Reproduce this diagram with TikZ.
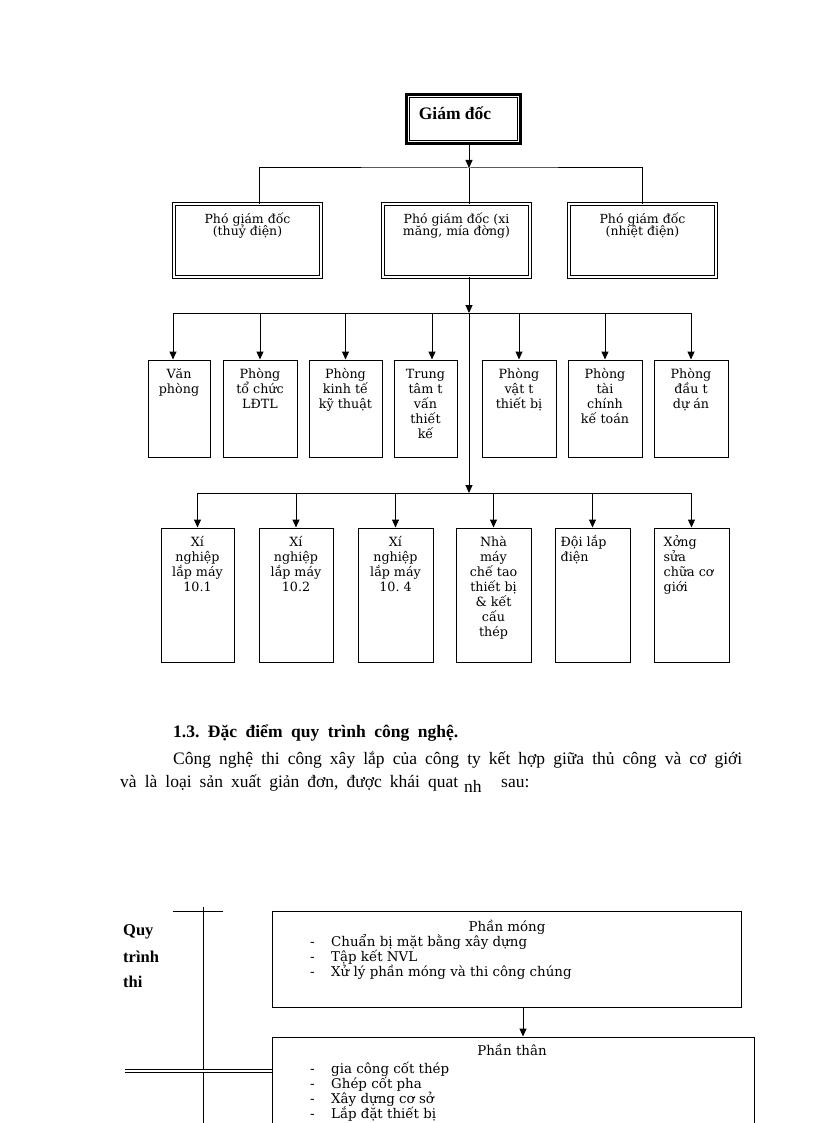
\documentclass[tikz,border=0pt]{standalone}
\usepackage{fontspec}
\setmainfont{Liberation Serif}
\newfontfamily\chartfont{DejaVu Serif}
\usetikzlibrary{arrows.meta}
\frenchspacing

\newcommand\cstack[1]{\vtop{\let\\\cr\lineskiplimit=-50pt\halign{\hfil##\hfil\cr#1\crcr}}}
\newcommand\lstack[1]{\vtop{\let\\\cr\lineskiplimit=-50pt\halign{##\hfil\cr#1\crcr}}}
\newcommand\itm[1]{\makebox[21pt][l]{-}#1}

\begin{document}
\begin{tikzpicture}[x=1pt, y=-1pt,
  ln/.style={line width=1pt},
  arr/.style={ln, -{Triangle[width=7pt,length=8pt]}},
  unit/.style={draw, ln, inner sep=0pt, minimum width=#1, minimum height=97pt},
  works/.style={draw, ln, inner sep=0pt, minimum width=#1, minimum height=134pt},
  deputy/.style={draw, double, double distance=2pt, line width=0.9pt, inner sep=0pt, minimum width=147pt, minimum height=73pt},
  chart/.style={inner sep=0pt, anchor=base, font=\chartfont\fontsize{12.7}{15}\selectfont},
  deptext/.style={chart, font=\chartfont\fontsize{12.5}{11.5}\selectfont},
  body/.style={inner sep=0pt, anchor=base west, font=\fontsize{17.5}{21}\selectfont},
  stage/.style={draw, ln, inner sep=0pt, minimum height=#1},
  stagetext/.style={inner sep=0pt, font=\chartfont\fontsize{13.4}{15}\selectfont}]
\clip (0,0) rectangle (816,1123);

% giam doc
\node[draw, line width=3pt, inner sep=0pt, minimum width=114pt, minimum height=49pt] (gd) at (463.5,119) {};
\draw[line width=0.8pt] ([shift={(4.5,4.5)}]gd.north west) rectangle ([shift={(-4.5,-4.5)}]gd.south east);
\node[inner sep=0pt, anchor=base, font=\bfseries\fontsize{17.5}{20}\selectfont] (gdt) at (455,120) {Giám đốc};

% pho giam doc
\node[deputy] (dl) at (247.5,240.5) {};
\node[deputy] (dm) at (456.5,240.5) {};
\node[deputy] (dr) at (642.5,240.5) {};
\node[deptext] (dlt) at ([yshift=-20pt]dl.north) {\cstack{Phó giám đốc\\(thuỷ điện)}};
\node[deptext] (dmt) at ([yshift=-20pt]dm.north) {\cstack{Phó giám đốc (xi\\măng, mía đờng)}};
\node[deptext] (drt) at ([yshift=-20pt]dr.north) {\cstack{Phó giám đốc\\(nhiệt điện)}};

\coordinate (b1) at (469,168);
\draw[arr] ([xshift=5.5pt]gd.south) -- (b1);
\draw[ln] (b1) -- ([xshift=12.5pt]dm.north);
\draw[ln] ([xshift=11.5pt]dl.north) |- (b1) -| (dr.north);

% phong ban
\node[unit=62pt] (p1) at (179,408.5) {};
\node[unit=74pt] (p2) at (260,408.5) {};
\node[unit=73pt] (p3) at (345.5,408.5) {};
\node[unit=63pt] (p4) at (425.5,408.5) {};
\node[unit=74pt] (p5) at (519,408.5) {};
\node[unit=74pt] (p6) at (605,408.5) {};
\node[unit=74pt] (p7) at (691,408.5) {};
\node[chart] (p1t) at ([yshift=-19pt]p1.north) {\cstack{Văn\\phòng}};
\node[chart] (p2t) at ([yshift=-19pt]p2.north) {\cstack{Phòng\\tổ chức\\LĐTL}};
\node[chart] (p3t) at ([yshift=-19pt]p3.north) {\cstack{Phòng\\kinh tế\\kỹ thuật}};
\node[chart] (p4t) at ([yshift=-19pt]p4.north) {\cstack{Trung\\tâm t\\vấn\\thiết\\kế}};
\node[chart] (p5t) at ([yshift=-19pt]p5.north) {\cstack{Phòng\\vật t\\thiết bị}};
\node[chart] (p6t) at ([yshift=-19pt]p6.north) {\cstack{Phòng\\tài\\chính\\kế toán}};
\node[chart] (p7t) at ([yshift=-19pt]p7.north) {\cstack{Phòng\\đầu t\\dự án}};

\coordinate (b2) at (469,313);
\coordinate (p1in) at ([xshift=-6pt]p1.north);
\coordinate (p4in) at ([xshift=6.5pt]p4.north);
\draw[arr] ([xshift=12.5pt]dm.south) -- (b2);
\draw[ln] (p1in |- b2) -- (p7.north |- b2);
\draw[arr] (p1in |- b2) -- (p1in);
\draw[arr] (p2.north |- b2) -- (p2.north);
\draw[arr] (p3.north |- b2) -- (p3.north);
\draw[arr] (p4in |- b2) -- (p4in);
\draw[arr] (p5.north |- b2) -- (p5.north);
\draw[arr] (p6.north |- b2) -- (p6.north);
\draw[arr] (p7.north |- b2) -- (p7.north);

% xi nghiep
\node[works=73pt] (w1) at (197.5,595) {};
\node[works=74pt] (w2) at (296,595) {};
\node[works=75pt] (w3) at (395.5,595) {};
\node[works=75pt] (w4) at (493.5,595) {};
\node[works=75pt] (w5) at (592.5,595) {};
\node[works=75pt] (w6) at (691.5,595) {};
\node[chart] (w1t) at ([yshift=-19pt]w1.north) {\cstack{Xí\\nghiệp\\lắp máy\\10.1}};
\node[chart] (w2t) at ([yshift=-19pt]w2.north) {\cstack{Xí\\nghiệp\\lắp máy\\10.2}};
\node[chart] (w3t) at ([yshift=-19pt]w3.north) {\cstack{Xí\\nghiệp\\lắp máy\\10. 4}};
\node[chart] (w4t) at ([yshift=-19pt]w4.north) {\cstack{Nhà\\máy\\chế tao\\thiết bị\\\& kết\\cấu\\thép}};
\node[chart, anchor=base west] (w5t) at ([xshift=6pt,yshift=-19pt]w5.north west) {\lstack{Đội lắp\\điện}};
\node[chart, anchor=base west] (w6t) at ([xshift=10pt,yshift=-19pt]w6.north west) {\lstack{Xởng\\sửa\\chữa cơ\\giới}};

\coordinate (b3) at (469,493);
\draw[arr] (b2) -- (b3);
\draw[ln] (w1.north |- b3) -- (w6.north |- b3);
\draw[arr] (w1.north |- b3) -- (w1.north);
\draw[arr] (w2.north |- b3) -- (w2.north);
\draw[arr] (w3.north |- b3) -- (w3.north);
\draw[arr] (w4.north |- b3) -- (w4.north);
\draw[arr] (w5.north |- b3) -- (w5.north);
\draw[arr] (w6.north |- b3) -- (w6.north);

% van ban
\node[body, font=\bfseries\fontsize{17.5}{21}\selectfont] (head) at (173,737) {\makebox[285pt][s]{1.3. Đặc điểm quy trình công nghệ.}};
\node[body] (line1) at (173,764) {\makebox[569pt][s]{Công nghệ thi công xây lắp của công ty kết hợp giữa thủ công và cơ giới}};
\node[body] (line2) at (120,787) {\makebox[338pt][s]{và là loại sản xuất giản đơn, được khái quat}};
\node[body] (nh) at (464,792) {nh};
\node[body] (sau) at (501,787) {sau:};

% quy trinh
\node[body, font=\bfseries\fontsize{16.5}{20}\selectfont] (q1) at (123,935) {Quy};
\node[body, font=\bfseries\fontsize{16.5}{20}\selectfont] (q2) at (123,962) {trình};
\node[body, font=\bfseries\fontsize{16.5}{20}\selectfont] (q3) at (123,987) {thi};
\draw[ln] (203,907) -- (203,1123);
\draw[ln] (173,911) -- (223,911);

\node[stage=96pt, minimum width=469pt] (mong) at (506.5,959) {};
\node[stage=123pt, minimum width=482pt] (than) at (513,1098.5) {};
\node[stagetext, anchor=base] (mongt) at (507,931) {Phần móng};
\node[stagetext, anchor=base west] (mongl) at (310,946) {\lstack{\itm{Chuẩn bị mặt bằng xây dựng}\\\itm{Tập kết NVL}\\\itm{Xử lý phần móng và thi công chúng}}};
\node[stagetext, anchor=base] (thant) at (512,1055) {Phần thân};
\node[stagetext, anchor=base west] (thanl) at (310,1073) {\lstack{\itm{gia công cốt thép}\\\itm{Ghép cốt pha}\\\itm{Xây dựng cơ sở}\\\itm{Lắp đặt thiết bị}}};

\coordinate (dbl) at (125,1071);
\draw[ln, double, double distance=2pt] (dbl) -- (than.west |- dbl);
\coordinate (mongout) at ([xshift=16.5pt]mong.south);
\draw[arr] (mongout) -- (mongout |- than.north);
\end{tikzpicture}
\end{document}
